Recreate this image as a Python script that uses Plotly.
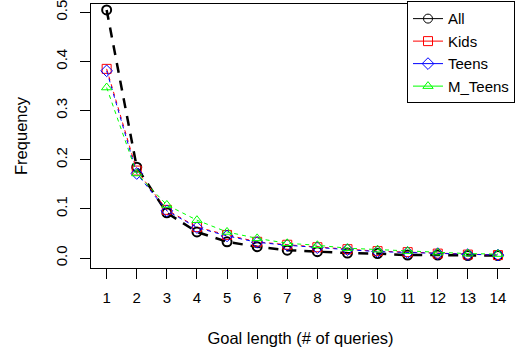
import plotly.graph_objects as go

goal_length = list(range(1, 15))
all_freq    = [0.505, 0.185, 0.092, 0.053, 0.033, 0.023, 0.016, 0.013, 0.010, 0.009, 0.006, 0.006, 0.005, 0.005]
kids_freq   = [0.385, 0.178, 0.098, 0.063, 0.047, 0.033, 0.027, 0.022, 0.018, 0.014, 0.012, 0.009, 0.007, 0.006]
teens_freq  = [0.381, 0.172, 0.096, 0.062, 0.045, 0.032, 0.026, 0.021, 0.017, 0.013, 0.011, 0.009, 0.007, 0.006]
mteens_freq = [0.347, 0.172, 0.108, 0.077, 0.053, 0.040, 0.030, 0.026, 0.020, 0.017, 0.014, 0.011, 0.009, 0.008]
x_ticks = list(range(1, 15))
y_ticks = [0.0, 0.1, 0.2, 0.3, 0.4, 0.5]
y_tick_text = ["0.0", "0.1", "0.2", "0.3", "0.4", "0.5"]

FONT = "Liberation Sans, Arial, Helvetica, sans-serif"

series = [
    ("All", all_freq, "black", "circle-open", 2.5, "10px,8px", 2),
    ("Kids", kids_freq, "#FF0000", "square-open", 1, "4px,4px", 1),
    ("Teens", teens_freq, "#0000FF", "diamond-open", 1, "4px,4px", 1),
    ("M_Teens", mteens_freq, "#00FF00", "triangle-up-open", 1, "4px,4px", 1),
]

fig = go.Figure()
for name, vals, color, sym, lw, dash, mlw in series:
    fig.add_trace(go.Scatter(
        x=goal_length, y=vals, name=name, mode="lines+markers",
        legendgroup=name, showlegend=False,
        line=dict(color=color, width=lw, dash=dash),
        marker=dict(symbol=sym, size=9, color=color, line=dict(color=color, width=mlw)),
    ))
# legend entries (solid line + symbol, as in the R legend)
for name, vals, color, sym, lw, dash, mlw in series:
    fig.add_trace(go.Scatter(
        x=[None], y=[None], name=name, mode="lines+markers",
        legendgroup=name, showlegend=True,
        line=dict(color=color, width=1),
        marker=dict(symbol=sym, size=9, color=color, line=dict(color=color, width=1)),
    ))

fig.update_layout(
    width=515, height=354,
    margin=dict(l=91, r=0, t=4, b=86),
    paper_bgcolor="white", plot_bgcolor="white",
    font=dict(family=FONT, color="black", size=15),
    showlegend=True,
    legend=dict(
        x=(411 - 91) / 424, xanchor="left", y=1.01, yanchor="top",
        bordercolor="black", borderwidth=1, bgcolor="white",
        font=dict(size=15, family=FONT, color="black"),
        itemwidth=30, tracegroupgap=0,
    ),
    xaxis=dict(
        range=[0.48, 14.4], tickvals=x_ticks, ticktext=[str(v) for v in x_ticks],
        showgrid=False, zeroline=False, showline=True, linecolor="black", linewidth=1,
        mirror=True, ticks="outside", ticklen=10, tickcolor="black",
        tickfont=dict(size=15), ticklabelstandoff=6,
        title=dict(text="Goal length (# of queries)", font=dict(size=16.5), standoff=27),
    ),
    yaxis=dict(
        range=[-0.0203, 0.517], tickvals=y_ticks, ticktext=y_tick_text,
        showgrid=False, zeroline=False, showline=True, linecolor="black", linewidth=1,
        mirror=False, ticks="outside", ticklen=10, tickcolor="black",
        tickfont=dict(size=15), tickangle=-90, ticklabelstandoff=7,
        ticklabeloverflow="allow",
        title=dict(text="Frequency", font=dict(size=16.5), standoff=21),
    ),
)

fig.write_html("out.html")
